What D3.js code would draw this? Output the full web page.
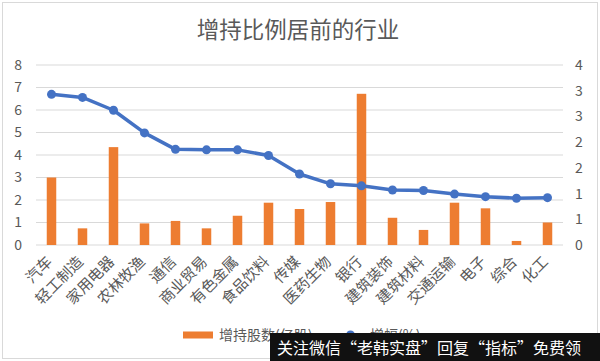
<!DOCTYPE html>
<html><head><meta charset="utf-8">
<script src="https://cdn.jsdelivr.net/npm/d3@7"></script>
<style>body{margin:0;background:#fff;}svg{display:block;font-family:"Noto Sans CJK SC","Microsoft YaHei",sans-serif;}</style>
</head><body>
<svg id="c" width="600" height="361"></svg>
<script>
const categories = ["汽车","轻工制造","家用电器","农林牧渔","通信","商业贸易","有色金属","食品饮料","传媒","医药生物","银行","建筑装饰","建筑材料","交通运输","电子","综合","化工"];
const sharesValues = [3.0,0.74,4.35,0.96,1.07,0.74,1.3,1.88,1.6,1.91,6.72,1.21,0.67,1.88,1.63,0.18,1.0];
const growthValues = [2.93,2.87,2.62,2.18,1.86,1.85,1.85,1.74,1.38,1.19,1.15,1.07,1.06,0.99,0.94,0.91,0.92];
const leftTicks = [0,1,2,3,4,5,6,7,8];
const rightTicks = [0,0.5,1,1.5,2,2.5,3,3.5];
const title = "增持比例居前的行业";
const legendLabels = ["增持股数(亿股)","增幅(%)"];
const watermark = "关注微信“老韩实盘”回复“指标”免费领";

const svg = d3.select("#c");
const W=600,H=361;
const m={l:36,r:37,t:65,b:116};
const x=d3.scaleBand().domain(categories).range([m.l,W-m.r]).paddingInner(0).paddingOuter(0);
const yL=d3.scaleLinear().domain([0,8]).range([H-m.b,m.t]);
const yR=d3.scaleLinear().domain([0,3.5]).range([H-m.b,m.t]);
const textCol="#595959";

// frame
svg.append("rect").attr("x",2.5).attr("y",2.5).attr("width",W-5).attr("height",H-5).attr("fill","#fff").attr("stroke","#d9d9d9");

svg.append("text").attr("x",298).attr("y",38).attr("text-anchor","middle").attr("font-size",22.5).attr("fill",textCol).text(title);

// gridlines
svg.append("g").selectAll("line").data(leftTicks).join("line")
 .attr("x1",m.l).attr("x2",W-m.r).attr("y1",d=>yL(d)).attr("y2",d=>yL(d))
 .attr("stroke","#d9d9d9").attr("stroke-width",1);

// left axis
const la=svg.append("g").attr("transform",`translate(${m.l-14},0)`)
 .call(d3.axisLeft(yL).tickValues(leftTicks).tickSize(0).tickPadding(0).tickFormat(d3.format("d")));
la.select(".domain").remove();
la.selectAll("text").attr("font-size",14).attr("fill",textCol).attr("font-family","'Noto Sans CJK SC',sans-serif");

// right axis
const ra=svg.append("g").attr("transform",`translate(${W-m.r+12},0)`)
 .call(d3.axisRight(yR).tickValues(rightTicks).tickSize(0).tickPadding(0).tickFormat(d=>String(Math.round(d+1e-9))));
ra.select(".domain").remove();
ra.selectAll("text").attr("font-size",14).attr("fill",textCol).attr("font-family","'Noto Sans CJK SC',sans-serif");

// bars
const bw=9.5;
svg.append("g").selectAll("rect").data(sharesValues).join("rect")
 .attr("x",(d,i)=>x(categories[i])+x.bandwidth()/2-bw/2)
 .attr("width",bw)
 .attr("y",d=>yL(d)).attr("height",d=>yL(0)-yL(d))
 .attr("fill","#ED7D31");

// line
const line=d3.line().x((d,i)=>x(categories[i])+x.bandwidth()/2).y(d=>yR(d));
svg.append("path").datum(growthValues).attr("d",line).attr("fill","none").attr("stroke","#4472C4").attr("stroke-width",3.5).attr("stroke-linejoin","round");
svg.append("g").selectAll("circle").data(growthValues).join("circle")
 .attr("cx",(d,i)=>x(categories[i])+x.bandwidth()/2).attr("cy",d=>yR(d)).attr("r",4.5).attr("fill","#4472C4");

// category labels
svg.append("g").selectAll("text").data(categories).join("text")
 .attr("transform",d=>`translate(${x(d)+x.bandwidth()/2-2},${H-m.b+14}) rotate(-45)`)
 .attr("text-anchor","end").attr("dy","0.35em").attr("font-size",15).attr("fill",textCol).text(d=>d);

// legend
const ly=335;
svg.append("rect").attr("x",183).attr("y",ly-3.5).attr("width",30).attr("height",7).attr("fill","#ED7D31");
svg.append("text").attr("x",219).attr("y",ly).attr("dy","0.35em").attr("font-size",14).attr("fill",textCol).text(legendLabels[0]);
svg.append("line").attr("x1",337).attr("x2",364).attr("y1",ly).attr("y2",ly).attr("stroke","#4472C4").attr("stroke-width",3.5);
svg.append("circle").attr("cx",350.5).attr("cy",ly).attr("r",4.5).attr("fill","#4472C4");
svg.append("text").attr("x",370).attr("y",ly).attr("dy","0.35em").attr("font-size",14).attr("fill",textCol).text(legendLabels[1]);

// watermark
svg.append("rect").attr("x",270).attr("y",333).attr("width",330).attr("height",28).attr("fill","#111");
svg.append("text").attr("x",277).attr("y",348).attr("dy","0.35em").attr("font-size",16).attr("fill","#fff").text(watermark);
</script>
</body></html>
